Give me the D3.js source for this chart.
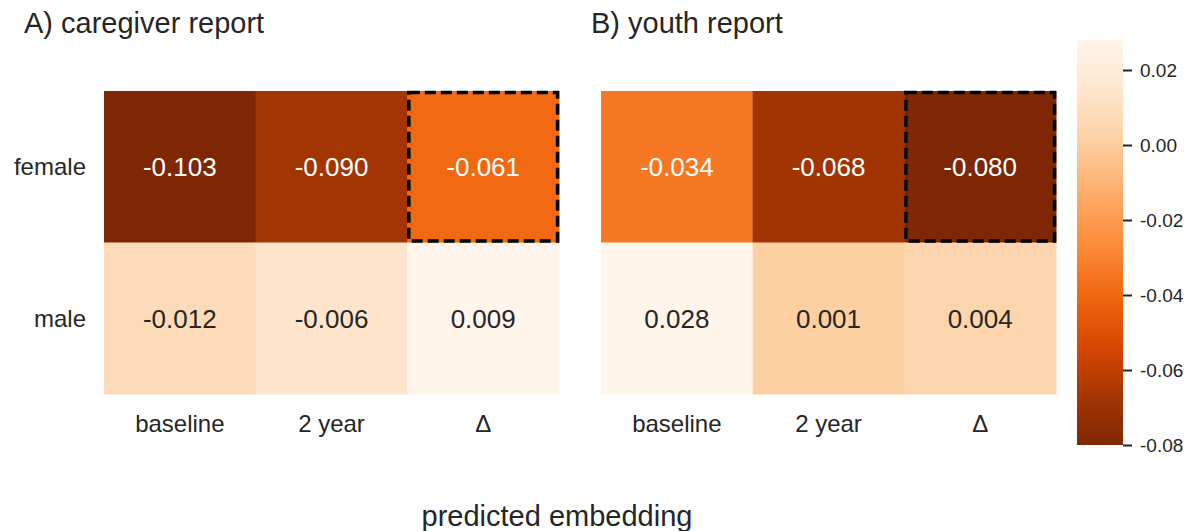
<!DOCTYPE html>
<html><head><meta charset="utf-8">
<script src="https://cdn.jsdelivr.net/npm/d3@7"></script>
<style>body{margin:0;background:#fff;} text{font-family:"Liberation Sans",Arial,sans-serif;}</style>
</head><body>
<svg id="c" width="1192" height="531"></svg>
<script>
const rows = ["female", "male"];
const cols = ["baseline", "2 year", "Δ"];
const caregiverValues = [[-0.103, -0.090, -0.061], [-0.012, -0.006, 0.009]];
const youthValues = [[-0.034, -0.068, -0.080], [0.028, 0.001, 0.004]];
const panelTitles = ["A) caregiver report", "B) youth report"];
const colorbarTicks = [0.02, 0.00, -0.02, -0.04, -0.06, -0.08];
const orangesStops = ["#fff5eb","#fee6ce","#fdd0a2","#fdae6b","#fd8d3c","#f16913","#d94801","#a63603","#7f2704"];

const svg = d3.select("#c");
const interp = d3.piecewise(d3.interpolateRgb, orangesStops);
function makeColor(vals){
  const flat = vals.flat();
  const n = d3.scaleLinear().domain([d3.min(flat), d3.max(flat)]).range([1, 0]).clamp(true);
  const f = v => interp(n(v));
  f.domain = [d3.min(flat), d3.max(flat)];
  return f;
}
function lum(c){ const r=d3.rgb(c); const f=x=>{x/=255;return x<=0.03928?x/12.92:Math.pow((x+0.055)/1.055,2.4);}; return 0.2126*f(r.r)+0.7152*f(r.g)+0.0722*f(r.b);}

const panels = [
  {x0: 104, x1: 559, vals: caregiverValues, title: panelTitles[0], tx: 24, ylabels: true},
  {x0: 601, x1: 1056, vals: youthValues, title: panelTitles[1], tx: 591, ylabels: false}
];
const y0 = 91, y1 = 394;
const y = d3.scaleBand().domain(rows).range([y0, y1]);

panels.forEach(p => {
  const color = makeColor(p.vals);
  p.color = color;
  const x = d3.scaleBand().domain(cols).range([p.x0, p.x1]);
  const g = svg.append("g");
  rows.forEach((r, i) => cols.forEach((c, j) => {
    const v = p.vals[i][j];
    const fill = color(v);
    g.append("rect").attr("x", x(c)).attr("y", y(r)).attr("width", x.bandwidth()+0.5).attr("height", y.bandwidth()+0.5).attr("fill", fill);
    g.append("text").attr("x", x(c)+x.bandwidth()/2).attr("y", y(r)+y.bandwidth()/2)
      .attr("dy", "0.36em").attr("text-anchor", "middle").attr("font-size", 26)
      .attr("fill", lum(fill) < 0.408 ? "#ffffff" : "#262626").text(v.toFixed(3));
  }));
  // highlight box around Δ female
  g.append("rect").attr("x", x("Δ")+1.5).attr("y", y("female")+1.5)
    .attr("width", x.bandwidth()-3).attr("height", y.bandwidth()-3)
    .attr("fill", "none").attr("stroke", "#000").attr("stroke-width", 3.5)
    .attr("stroke-dasharray", "11,5");
  cols.forEach(c => g.append("text").attr("x", x(c)+x.bandwidth()/2).attr("y", 432)
    .attr("text-anchor", "middle").attr("font-size", 24).attr("fill", "#262626").text(c));
  if (p.ylabels) rows.forEach(r => g.append("text").attr("x", 86).attr("y", y(r)+y.bandwidth()/2)
    .attr("dy", "0.36em").attr("text-anchor", "end").attr("font-size", 24).attr("fill", "#262626").text(r));
  g.append("text").attr("x", p.tx).attr("y", 33).attr("font-size", 29).attr("fill", "#262626").text(p.title);
});

// colorbar (youth panel scale)
const cbColor = panels[1].color;
const [vmin, vmax] = cbColor.domain;
const cbX = 1077, cbW = 46, cbTop = 40, cbBot = 445;
const cy = d3.scaleLinear().domain([vmin, vmax]).range([cbBot, cbTop]);
const defs = svg.append("defs");
const grad = defs.append("linearGradient").attr("id", "cbg").attr("x1", 0).attr("y1", 1).attr("x2", 0).attr("y2", 0);
d3.range(0, 1.0001, 0.05).forEach(t => grad.append("stop").attr("offset", t).attr("stop-color", cbColor(vmin + t*(vmax-vmin))));
svg.append("rect").attr("x", cbX).attr("y", cbTop).attr("width", cbW).attr("height", cbBot-cbTop).attr("fill", "url(#cbg)");
const cbAxis = d3.axisRight(cy).tickValues(colorbarTicks).tickFormat(d3.format(".2f")).tickSize(9).tickPadding(8);
const ag = svg.append("g").attr("transform", `translate(${cbX+cbW},0)`).call(cbAxis);
ag.select(".domain").remove();
ag.selectAll(".tick line").attr("stroke", "#262626").attr("stroke-width", 2);
ag.selectAll(".tick text").attr("font-size", 19).attr("fill", "#262626").attr("font-family", "Liberation Sans, Arial, sans-serif")
  .text(d => d3.format(".2f")(d).replace("−", "-"));

svg.append("text").attr("x", 557).attr("y", 526).attr("text-anchor", "middle").attr("font-size", 29).attr("fill", "#262626").text("predicted embedding");
</script>
</body></html>
